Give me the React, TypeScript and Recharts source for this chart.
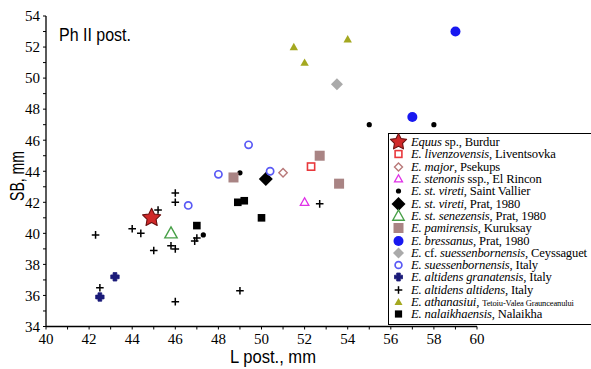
import React from 'react';
import { ScatterChart, Scatter, XAxis, YAxis, Legend, Label } from 'recharts';

// ---------- axis ticks ----------
const xTicks = [40, 41, 42, 43, 44, 45, 46, 47, 48, 49, 50, 51, 52, 53, 54, 55, 56, 57, 58, 59, 60];
const yTicks = [34, 35, 36, 37, 38, 39, 40, 41, 42, 43, 44, 45, 46, 47, 48, 49, 50, 51, 52, 53, 54];
const xTickLabels = [40, 42, 44, 46, 48, 50, 52, 54, 56, 58, 60];
const yTickLabels = [34, 36, 38, 40, 42, 44, 46, 48, 50, 52, 54];

// ---------- data (L post., SB) ----------
const equusBurdur = [{ L: 44.9, SB: 41.0 }];
const livenzovensis = [{ L: 52.3, SB: 44.3 }];
const majorPsekups = [{ L: 51.0, SB: 43.9 }];
const stenonisRincon = [{ L: 52.0, SB: 42.0 }];
const viretiStVallier = [
  { L: 49.0, SB: 43.9 },
  { L: 55.0, SB: 47.0 },
  { L: 58.0, SB: 47.0 },
  { L: 47.3, SB: 39.9 },
];
const viretiPrat = [{ L: 50.2, SB: 43.5 }];
const senezensisPrat = [{ L: 45.8, SB: 40.0 }];
const pamirensis = [
  { L: 48.7, SB: 43.6 },
  { L: 52.7, SB: 45.0 },
  { L: 53.6, SB: 43.2 },
];
const bressanus = [
  { L: 59.0, SB: 53.0 },
  { L: 57.0, SB: 47.5 },
];
const cfSuessenbornensis = [{ L: 53.5, SB: 49.6 }];
const suessenbornensisItaly = [
  { L: 49.4, SB: 45.7 },
  { L: 48.0, SB: 43.8 },
  { L: 50.4, SB: 44.0 },
  { L: 46.6, SB: 41.8 },
];
const altidensGranatensis = [
  { L: 43.2, SB: 37.2 },
  { L: 42.5, SB: 35.9 },
];
const altidensAltidens = [
  { L: 42.3, SB: 39.9 },
  { L: 42.5, SB: 36.5 },
  { L: 44.0, SB: 40.3 },
  { L: 44.4, SB: 40.0 },
  { L: 45.0, SB: 38.9 },
  { L: 45.2, SB: 41.5 },
  { L: 46.0, SB: 42.6 },
  { L: 46.0, SB: 42.0 },
  { L: 45.8, SB: 39.2 },
  { L: 46.0, SB: 39.0 },
  { L: 46.0, SB: 35.6 },
  { L: 46.9, SB: 39.5 },
  { L: 47.0, SB: 39.7 },
  { L: 49.0, SB: 36.3 },
  { L: 52.7, SB: 41.9 },
];
const athanasiui = [
  { L: 51.5, SB: 52.0 },
  { L: 52.0, SB: 51.0 },
  { L: 54.0, SB: 52.5 },
];
const nalaikhaensis = [
  { L: 48.9, SB: 42.0 },
  { L: 49.2, SB: 42.1 },
  { L: 50.0, SB: 41.0 },
  { L: 47.0, SB: 40.5 },
];

// ---------- legend texts: [text, italic, small] ----------
type Seg = [string, boolean, boolean?];
const legendLabels: Seg[][] = [
  [['Equus', true], [' sp., Burdur', false]],
  [['E. livenzovensis', true], [', Liventsovka', false]],
  [['E. major', true], [', Psekups', false]],
  [['E. stenonis', true], [' ssp., El Rincon', false]],
  [['E. st. vireti', true], [', Saint Vallier', false]],
  [['E. st. vireti', true], [', Prat, 1980', false]],
  [['E. st. senezensis', true], [', Prat, 1980', false]],
  [['E. pamirensis', true], [', Kuruksay', false]],
  [['E. bressanus', true], [', Prat, 1980', false]],
  [['E.', true], [' cf. ', false], ['suessenbornensis', true], [', Ceyssaguet', false]],
  [['E. suessenbornensis', true], [', Italy', false]],
  [['E. altidens granatensis', true], [', Italy', false]],
  [['E. altidens altidens', true], [', Italy', false]],
  [['E. athanasiui', true], [', ', false], ['Tetoiu-Valea Graunceanului', false, true]],
  [['E. nalaikhaensis', true], [', Nalaikha', false]],
];

// ---------- marker styles ----------
type Kind =
  | 'star' | 'openSquare' | 'openDiamond' | 'openTriangle' | 'dot' | 'diamond'
  | 'square' | 'circle' | 'openCircle' | 'fatPlus' | 'plus' | 'triangle';

interface Style { kind: Kind; color: string; size: number; legendSize: number; sw?: number }

const styles: Style[] = [
  { kind: 'star', color: '#d02828', size: 9.5, legendSize: 8.5 },
  { kind: 'openSquare', color: '#e8383c', size: 3.6, legendSize: 3.4, sw: 1.6 },
  { kind: 'openDiamond', color: '#b87878', size: 4.2, legendSize: 4, sw: 1.4 },
  { kind: 'openTriangle', color: '#e030e8', size: 4.5, legendSize: 4.2, sw: 1.3 },
  { kind: 'dot', color: '#000000', size: 2.6, legendSize: 2.6 },
  { kind: 'diamond', color: '#000000', size: 7, legendSize: 7 },
  { kind: 'openTriangle', color: '#48a048', size: 6.5, legendSize: 6, sw: 1.4 },
  { kind: 'square', color: '#a98484', size: 5, legendSize: 5 },
  { kind: 'circle', color: '#1818f0', size: 5, legendSize: 5 },
  { kind: 'diamond', color: '#aaaaaa', size: 6, legendSize: 5.5 },
  { kind: 'openCircle', color: '#5a5af5', size: 3.6, legendSize: 3.4, sw: 1.7 },
  { kind: 'fatPlus', color: '#1a1a78', size: 4.2, legendSize: 4 },
  { kind: 'plus', color: '#000000', size: 3.8, legendSize: 3.8, sw: 1.5 },
  { kind: 'triangle', color: '#a4a820', size: 4.2, legendSize: 4 },
  { kind: 'square', color: '#000000', size: 3.8, legendSize: 3.6 },
];

const seriesData = [
  equusBurdur, livenzovensis, majorPsekups, stenonisRincon, viretiStVallier,
  viretiPrat, senezensisPrat, pamirensis, bressanus, cfSuessenbornensis,
  suessenbornensisItaly, altidensGranatensis, altidensAltidens, athanasiui, nalaikhaensis,
];

function Marker({ kind, cx, cy, color, size, sw = 1.4 }: { kind: Kind; cx: number; cy: number; color: string; size: number; sw?: number }) {
  const s = size;
  switch (kind) {
    case 'star': {
      const pts: string[] = [];
      for (let i = 0; i < 10; i++) {
        const r = i % 2 === 0 ? s : s * 0.5;
        const a = -Math.PI / 2 + (i * Math.PI) / 5;
        pts.push(`${cx + r * Math.cos(a)},${cy + r * Math.sin(a)}`);
      }
      return <polygon points={pts.join(' ')} fill={color} stroke="#6a1010" strokeWidth={1.1} strokeLinejoin="round" />;
    }
    case 'openSquare':
      return <rect x={cx - s} y={cy - s} width={2 * s} height={2 * s} fill="#fff" stroke={color} strokeWidth={sw} />;
    case 'openDiamond':
      return <polygon points={`${cx},${cy - s} ${cx + s},${cy} ${cx},${cy + s} ${cx - s},${cy}`} fill="#fff" stroke={color} strokeWidth={sw} />;
    case 'openTriangle':
      return <polygon points={`${cx},${cy - s} ${cx + s * 0.95},${cy + s * 0.7} ${cx - s * 0.95},${cy + s * 0.7}`} fill="#fff" stroke={color} strokeWidth={sw} strokeLinejoin="miter" />;
    case 'triangle':
      return <polygon points={`${cx},${cy - s} ${cx + s},${cy + s * 0.75} ${cx - s},${cy + s * 0.75}`} fill={color} />;
    case 'dot':
    case 'circle':
      return <circle cx={cx} cy={cy} r={s} fill={color} />;
    case 'openCircle':
      return <circle cx={cx} cy={cy} r={s} fill="#fff" stroke={color} strokeWidth={sw} />;
    case 'diamond':
      return <polygon points={`${cx},${cy - s} ${cx + s},${cy} ${cx},${cy + s} ${cx - s},${cy}`} fill={color} />;
    case 'square':
      return <rect x={cx - s} y={cy - s} width={2 * s} height={2 * s} fill={color} />;
    case 'fatPlus': {
      const a = s * 0.45;
      const d = `M${cx - a},${cy - s} H${cx + a} V${cy - a} H${cx + s} V${cy + a} H${cx + a} V${cy + s} H${cx - a} V${cy + a} H${cx - s} V${cy - a} H${cx - a} Z`;
      return <path d={d} fill={color} stroke={color} strokeWidth={0.8} strokeLinejoin="round" />;
    }
    case 'plus':
      return (
        <g stroke={color} strokeWidth={sw}>
          <line x1={cx - s} y1={cy} x2={cx + s} y2={cy} />
          <line x1={cx} y1={cy - s} x2={cx} y2={cy + s} />
        </g>
      );
    default:
      return null;
  }
}

const serif = "'Liberation Serif', 'Times New Roman', serif";
const sans = "'Liberation Sans', Arial, sans-serif";

function LegendBox() {
  return (
    <div
      style={{
        border: '1px solid #000',
        background: '#fff',
        width: 210,
        padding: '2px 0 4px 0',
        fontFamily: serif,
        fontSize: 12.6,
        color: '#000',
        boxSizing: 'border-box',
      }}
    >
      {legendLabels.map((segs, i) => {
        const st = styles[i];
        return (
          <div key={i} style={{ height: 12.3, display: 'flex', alignItems: 'center', whiteSpace: 'nowrap', overflow: 'visible' }}>
            <svg width={22} height={14} style={{ flex: '0 0 22px', overflow: 'visible' }}>
              <Marker kind={st.kind} cx={9.5} cy={7} color={st.color} size={st.legendSize} sw={st.sw} />
            </svg>
            <span style={{ lineHeight: '12px', letterSpacing: -0.15 }}>
              {segs.map((sg, j) => (
                <span key={j} style={{ fontStyle: sg[1] ? 'italic' : 'normal', fontSize: sg[2] ? 8.5 : undefined }}>
                  {sg[0]}
                </span>
              ))}
            </span>
          </div>
        );
      })}
    </div>
  );
}

function Texts() {
  return (
    <g>
      <text x={59} y={41} fontFamily={sans} fontSize={19} fill="#000" textLength={72} lengthAdjust="spacingAndGlyphs">
        Ph II post.
      </text>
      <text
        x={16.5}
        y={176}
        fontFamily={sans}
        fontSize={20}
        fill="#000"
        textAnchor="middle"
        dominantBaseline="central"
        textLength={50}
        lengthAdjust="spacingAndGlyphs"
        transform="rotate(-90 16.5 176)"
      >
        SB, mm
      </text>
      <text x={273} y={363} fontFamily={sans} fontSize={19} fill="#000" textAnchor="middle" textLength={86} lengthAdjust="spacingAndGlyphs">
        L post., mm
      </text>
    </g>
  );
}

export default function App() {
  return (
    <div style={{ position: 'absolute', left: 0, top: 0, width: 591, height: 369, overflow: 'hidden', background: '#fff' }}>
      <ScatterChart width={591} height={369} margin={{ top: 16, right: 114, bottom: 12.5, left: 0 }}>
        <XAxis
          type="number"
          dataKey="L"
          domain={[40, 60]}
          ticks={xTicks}
          interval={0}
          height={30}
          tickSize={3}
          tickMargin={4}
          tickFormatter={(v: number) => (xTickLabels.includes(v) ? String(v) : '')}
          tick={{ fontFamily: serif, fontSize: 15, fill: '#000' }}
          axisLine={{ stroke: '#000', strokeWidth: 1.3 }}
          tickLine={{ stroke: '#000' }}
          allowDataOverflow
        >
          <Label content={() => <Texts />} />
        </XAxis>
        <YAxis
          type="number"
          dataKey="SB"
          domain={[34, 54]}
          ticks={yTicks}
          interval={0}
          width={46}
          tickSize={3}
          tickMargin={3}
          tickFormatter={(v: number) => (yTickLabels.includes(v) ? String(v) : '')}
          tick={{ fontFamily: serif, fontSize: 15, fill: '#000' }}
          axisLine={{ stroke: '#000', strokeWidth: 1.3 }}
          tickLine={{ stroke: '#000' }}
          allowDataOverflow
        />
        {seriesData.map((d, i) => {
          const st = styles[i];
          return (
            <Scatter
              key={i}
              data={d}
              isAnimationActive={false}
              fill={st.color}
              shape={(p: any) => <Marker kind={st.kind} cx={p.cx} cy={p.cy} color={st.color} size={st.size} sw={st.sw} />}
            />
          );
        })}
        <Legend
          layout="vertical"
          align="center"
          verticalAlign="middle"
          wrapperStyle={{ left: 388, top: 133, width: 210 }}
          content={() => <LegendBox />}
        />
      </ScatterChart>
    </div>
  );
}
